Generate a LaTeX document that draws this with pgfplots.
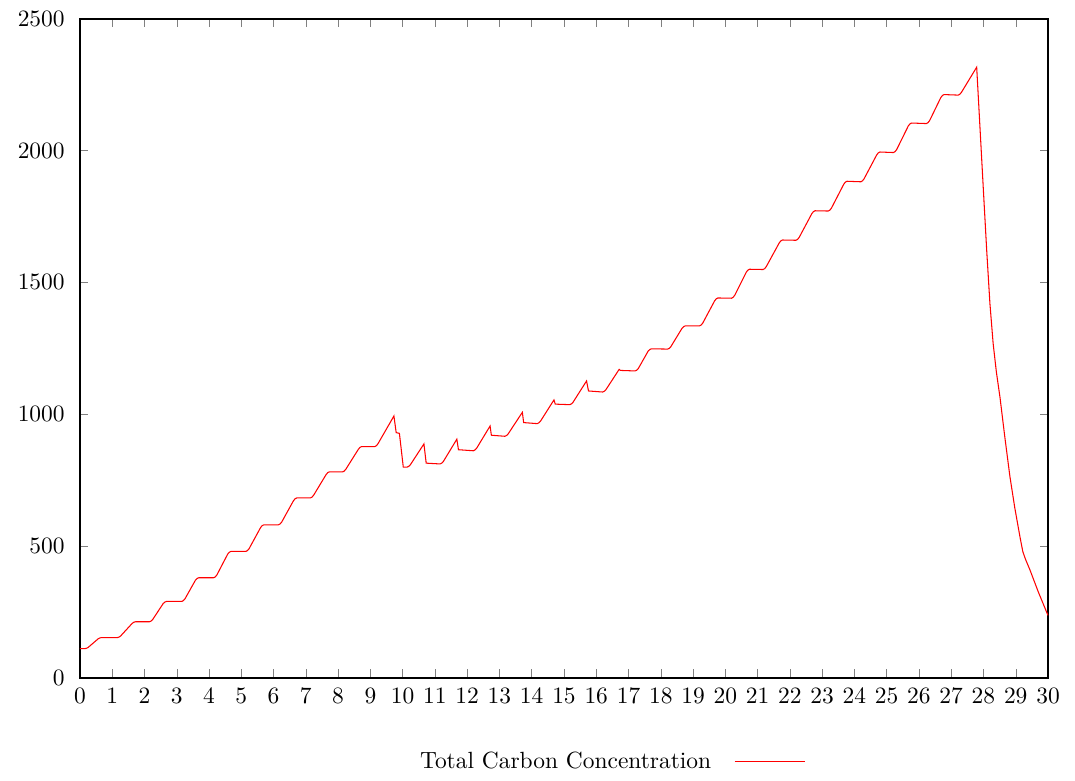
\documentclass[border=0pt]{standalone}
\usepackage{pgfplots}
\pgfplotsset{compat=1.18}
\begin{document}
\begin{tikzpicture}
\begin{axis}[
  width=413pt, height=281pt, scale only axis,
  xmin=0, xmax=30, ymin=0, ymax=2500,
  xtick={0,1,...,30}, ytick={0,500,1000,1500,2000,2500},
  scaled ticks=false,
  /pgf/number format/1000 sep={},
  tick align=inside,
  major tick length=3.5pt,
  axis line style={line width=0.8pt},
  yticklabel shift=3pt,
  xticklabel shift=1pt,
  clip=false,
  legend style={at={(0.548,-0.1275)}, anchor=center, draw=none, fill=none, font=\normalsize},
  legend plot pos=right,
  legend image code/.code={\path[draw=none,fill=none] (0pt,0pt) rectangle (8pt,0.1pt); \draw[#1] (8pt,0pt) -- (38pt,0pt);},
]
\addplot[red, line width=0.45pt] coordinates {
(0,110) (0.15,110) (0.20,111.3) (0.25,114.2) (0.41,131) (0.57,147.8) (0.62,150.7) (0.67,152)
(1.16,152) (1.21,153.8) (1.26,158) (1.44,182) (1.62,206) (1.67,210.2) (1.72,212)
(2.15,212) (2.20,214.3) (2.25,219.7) (2.415,250.5) (2.58,281.3) (2.63,286.7) (2.68,289)
(3.15,289) (3.20,291.7) (3.25,298) (3.415,334) (3.58,370) (3.63,376.3) (3.68,379)
(4.14,379) (4.19,382) (4.24,389) (4.41,429) (4.58,469) (4.63,476) (4.68,479)
(5.14,479) (5.19,482) (5.24,489) (5.42,529.5) (5.60,570) (5.65,577) (5.70,580)
(6.15,580) (6.20,583) (6.25,590) (6.435,631) (6.62,672) (6.67,679) (6.72,682)
(7.14,682) (7.19,685) (7.24,692) (7.435,731.5) (7.63,771) (7.68,778) (7.73,781)
(8.14,781) (8.19,784) (8.24,791) (8.435,829) (8.63,867) (8.68,874) (8.73,877)
(9.14,877) (9.19,880.5) (9.24,888.6) (9.73,993)
(9.80,930) (9.90,927) (10.02,799) (10.14,799)
(10.19,802) (10.24,808) (10.66,887) (10.73,814)
(11.16,811) (11.21,814) (11.26,820) (11.68,905) (11.73,865)
(12.19,861) (12.24,864) (12.29,870) (12.71,955) (12.75,920)
(13.17,916) (13.22,919) (13.27,925) (13.71,1007) (13.75,968)
(14.17,964) (14.22,967) (14.27,973) (14.69,1054) (14.73,1038)
(15.18,1036) (15.23,1039) (15.28,1045) (15.70,1126) (15.76,1088)
(16.20,1084) (16.25,1087) (16.30,1093) (16.71,1170) (16.75,1166)
(17.20,1164) (17.25,1166.5) (17.30,1172.4) (17.455,1206) (17.61,1239.6) (17.66,1245.5) (17.71,1248)
(18.21,1247) (18.26,1249.6) (18.31,1255.8) (18.485,1291) (18.66,1326.2) (18.71,1332.4) (18.76,1335)
(19.20,1335) (19.25,1338.2) (19.30,1345.6) (19.485,1388) (19.67,1430.4) (19.72,1437.8) (19.77,1441)
(20.19,1440) (20.24,1443.3) (20.29,1451) (20.47,1495) (20.65,1539) (20.70,1546.7) (20.75,1550)
(21.17,1549) (21.22,1552.4) (21.27,1560.2) (21.47,1605) (21.67,1649.8) (21.72,1657.6) (21.77,1661)
(22.19,1660) (22.24,1663.4) (22.29,1671.2) (22.485,1716) (22.68,1760.8) (22.73,1768.6) (22.78,1772)
(23.19,1771) (23.24,1774.4) (23.29,1782.3) (23.48,1827.5) (23.67,1872.7) (23.72,1880.6) (23.77,1884)
(24.20,1882) (24.25,1885.4) (24.30,1893.3) (24.495,1938.5) (24.69,1983.7) (24.74,1991.6) (24.79,1995)
(25.21,1993) (25.26,1996.4) (25.31,2004.2) (25.49,2049) (25.67,2093.8) (25.72,2101.6) (25.77,2105)
(26.23,2103) (26.28,2106.3) (26.33,2114) (26.505,2158) (26.68,2202) (26.73,2209.7) (26.78,2213)
(27.22,2211) (27.27,2214.5) (27.32,2222) (27.79,2317)
(27.9,2070) (28.0,1845) (28.1,1622) (28.2,1420) (28.3,1268) (28.4,1160) (28.51,1066)
(28.66,915) (28.82,763) (28.97,645) (29.13,535) (29.22,478) (29.3,450) (29.44,409)
(29.7,325) (30,236)
};
\addlegendentry{Total Carbon Concentration}
\path (rel axis cs:-0.0826,-0.1517) rectangle (rel axis cs:1.0279,1.0288);
\end{axis}
\end{tikzpicture}
\end{document}
